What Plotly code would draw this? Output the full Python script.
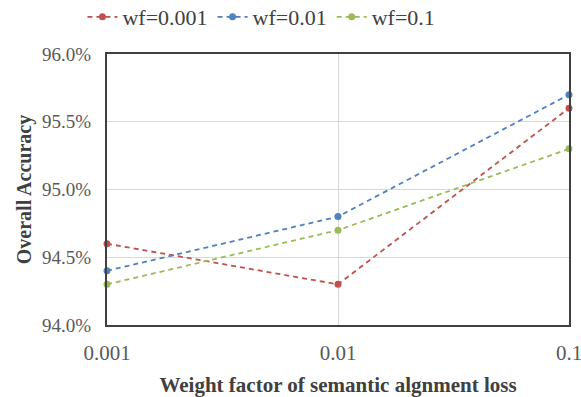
import plotly.graph_objects as go

categories = ["0.001", "0.01", "0.1"]
series_names = ["wf=0.001", "wf=0.01", "wf=0.1"]
wf_0001 = [94.6, 94.3, 95.6]
wf_001 = [94.4, 94.8, 95.7]
wf_01 = [94.3, 94.7, 95.3]
y_ticks = [94.0, 94.5, 95.0, 95.5, 96.0]
y_ticktext = [f"{v:.1f}%" for v in y_ticks]

colors = ["#C0504D", "#4F81BD", "#9BBB59"]
font = "Liberation Serif, Times New Roman, serif"

fig = go.Figure()
for name, vals, c in zip(series_names, [wf_0001, wf_001, wf_01], colors):
    fig.add_trace(go.Scatter(
        x=categories, y=vals, name=name, mode="lines+markers",
        line=dict(color=c, width=1.8, dash="5px,4px"),
        marker=dict(color=c, size=7),
        cliponaxis=False,
    ))

fig.update_layout(
    width=581, height=397,
    margin=dict(l=107, r=12, t=54, b=72, autoexpand=False),
    paper_bgcolor="white", plot_bgcolor="white",
    font=dict(family=font, color="#595959"),
    showlegend=True,
    legend=dict(orientation="h", x=0.45, xanchor="center", xref="container",
                y=1 - 17 / 397, yanchor="middle", yref="container",
                font=dict(size=22, color="#404040"),
                itemwidth=30, tracegroupgap=0),
    xaxis=dict(
        type="category", range=[0, 2], automargin=False,
        showgrid=True, gridcolor="#D9D9D9", gridwidth=1,
        showline=True, linecolor="#404040", linewidth=2, mirror=True,
        ticks="", tickfont=dict(size=21, color="#595959"), ticklabelstandoff=8,
        title=dict(text="<b>Weight factor of semantic algnment loss</b>",
                   font=dict(size=21, color="#404040"), standoff=18),
        zeroline=False,
    ),
    yaxis=dict(
        range=[94.0, 96.0], tickvals=y_ticks, ticktext=y_ticktext, automargin=False,
        showgrid=True, gridcolor="#D9D9D9", gridwidth=1,
        showline=True, linecolor="#404040", linewidth=2, mirror=True,
        ticks="", tickfont=dict(size=19, color="#595959"), ticklabelstandoff=10,
        title=dict(text="<b>Overall Accuracy</b>",
                   font=dict(size=20, color="#404040"), standoff=5),
        zeroline=False,
    ),
)

fig.write_html("out.html")
